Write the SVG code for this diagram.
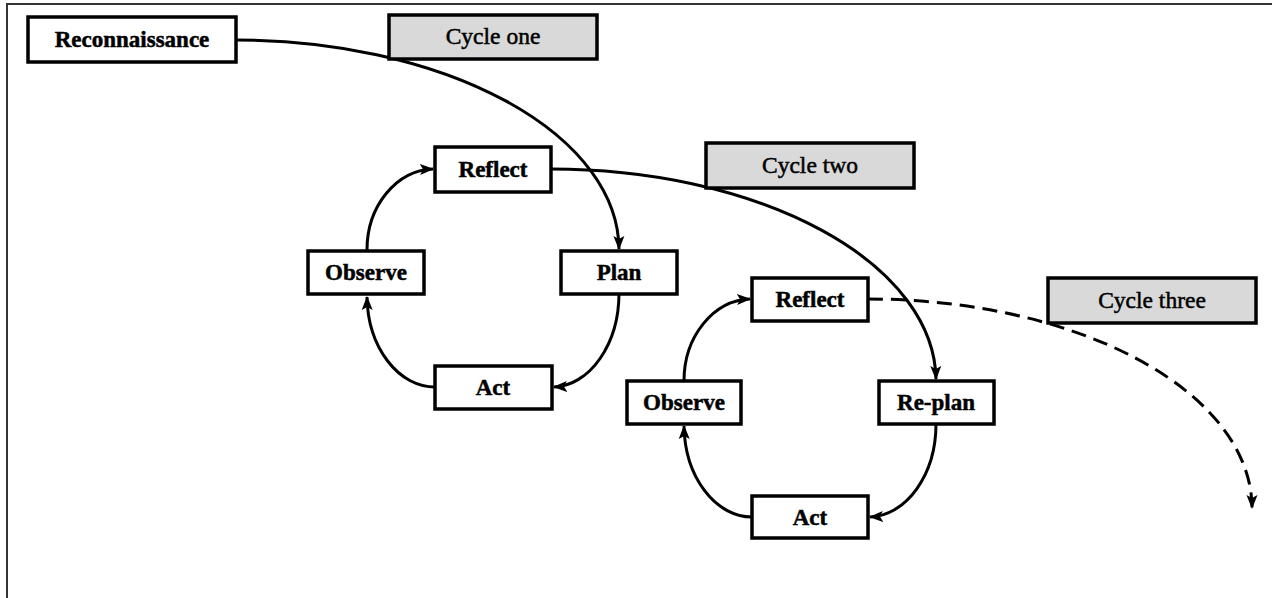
<svg xmlns="http://www.w3.org/2000/svg" width="1272" height="598" viewBox="0 0 1272 598">
<style>
.node rect{fill:#fff;stroke:#000;stroke-width:3.5}
.cycle rect{fill:#d9d9d9;stroke:#000;stroke-width:3.5}
.node text{font-family:"Liberation Serif","Times New Roman",serif;font-weight:bold;font-size:23px;text-anchor:middle;fill:#000;stroke:#000;stroke-width:0.5}
.cycle text{font-family:"Liberation Serif","Times New Roman",serif;font-size:23.5px;text-anchor:middle;fill:#000;stroke:#000;stroke-width:0.5}
.conn path{fill:none;stroke:#000;stroke-width:3}
.dash{stroke-dasharray:15 8}
</style>
<defs>
<marker id="ah" markerUnits="userSpaceOnUse" markerWidth="14" markerHeight="14" viewBox="0 0 14 14" refX="13" refY="7" orient="auto">
<path d="M0,1.5 L14,7 L0,12.5 L3,7 Z" fill="#000"/>
</marker>
</defs>
<rect width="1272" height="598" fill="#fff"/>
<g id="frame" fill="none" stroke="#333" stroke-width="2">
<path d="M7,598 L7,4 L1272,4"/>
</g>
<g class="conn" id="connectors">
<path d="M236,40 A383,210 0 0 1 619,249" marker-end="url(#ah)"/>
<path d="M551,169 A385,212 0 0 1 936,379" marker-end="url(#ah)"/>
<path class="dash" d="M868,299 A384,209 0 0 1 1252,508" marker-end="url(#ah)"/>
<path d="M367,250 A68,81 0 0 1 433,169" marker-end="url(#ah)"/>
<path d="M619,293 A67,94 0 0 1 554,387" marker-end="url(#ah)"/>
<path d="M435,387 A68,92 0 0 1 367,297" marker-end="url(#ah)"/>
<path d="M684,381 A68,82 0 0 1 750,299" marker-end="url(#ah)"/>
<path d="M936,424 A68,93 0 0 1 870,517" marker-end="url(#ah)"/>
<path d="M752,517 A68,93 0 0 1 684,426" marker-end="url(#ah)"/>
</g>
<g class="node" id="reconnaissance"><rect x="28" y="17" width="208" height="45"/><text x="132" y="47">Reconnaissance</text></g>
<g class="cycle" id="cycle-one"><rect x="389" y="15" width="208" height="44"/><text x="493" y="44">Cycle one</text></g>
<g class="node" id="reflect1"><rect x="435" y="147" width="116" height="45"/><text x="493" y="177">Reflect</text></g>
<g class="cycle" id="cycle-two"><rect x="706" y="143" width="208" height="45"/><text x="810" y="173">Cycle two</text></g>
<g class="node" id="observe1"><rect x="308" y="251" width="116" height="43"/><text x="366" y="280">Observe</text></g>
<g class="node" id="plan"><rect x="561" y="251" width="116" height="43"/><text x="619" y="280">Plan</text></g>
<g class="node" id="act1"><rect x="435" y="366" width="117" height="43"/><text x="493" y="395">Act</text></g>
<g class="node" id="reflect2"><rect x="752" y="278" width="116" height="43"/><text x="810" y="307">Reflect</text></g>
<g class="cycle" id="cycle-three"><rect x="1048" y="278" width="208" height="45"/><text x="1152" y="308">Cycle three</text></g>
<g class="node" id="observe2"><rect x="627" y="381" width="114" height="43"/><text x="684" y="410">Observe</text></g>
<g class="node" id="replan"><rect x="879" y="381" width="115" height="43"/><text x="936" y="410">Re-plan</text></g>
<g class="node" id="act2"><rect x="752" y="496" width="116" height="42"/><text x="810" y="525">Act</text></g>
</svg>
